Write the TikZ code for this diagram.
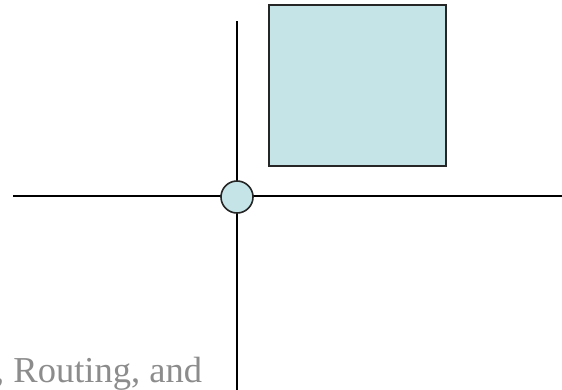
\documentclass[tikz,border=0pt]{standalone}
\usepackage{fontspec}
\setmainfont{Liberation Serif}
\begin{document}
\begin{tikzpicture}[x=1pt,y=-1pt,
  wire/.style={draw=black,line width=1.6pt},
  box/.style={draw=black!85,line width=1.6pt,fill=boxfill},
  lbl/.style={text=black!45,font=\fontsize{36.5}{40}\selectfont,inner sep=0pt,anchor=base west}]
\definecolor{boxfill}{HTML}{C5E4E8}
\useasboundingbox (0,0) rectangle (562,389);
\coordinate (vtop) at (237,21);
\coordinate (vbot) at (237,395);
\coordinate (hl) at (13,196);
\coordinate (hr) at (570,196);
\draw[wire] (vtop) -- (vbot);
\draw[wire] (hl) -- (hr);
\node[circle,box,minimum size=32pt,inner sep=0pt] (via) at (237,197) {};
\node[box,minimum width=177pt,minimum height=161pt,inner sep=0pt,anchor=north west] (blk) at (268,4) {};
\node[lbl] (txt) at (-5,382) {, Routing, and};
\end{tikzpicture}
\end{document}
